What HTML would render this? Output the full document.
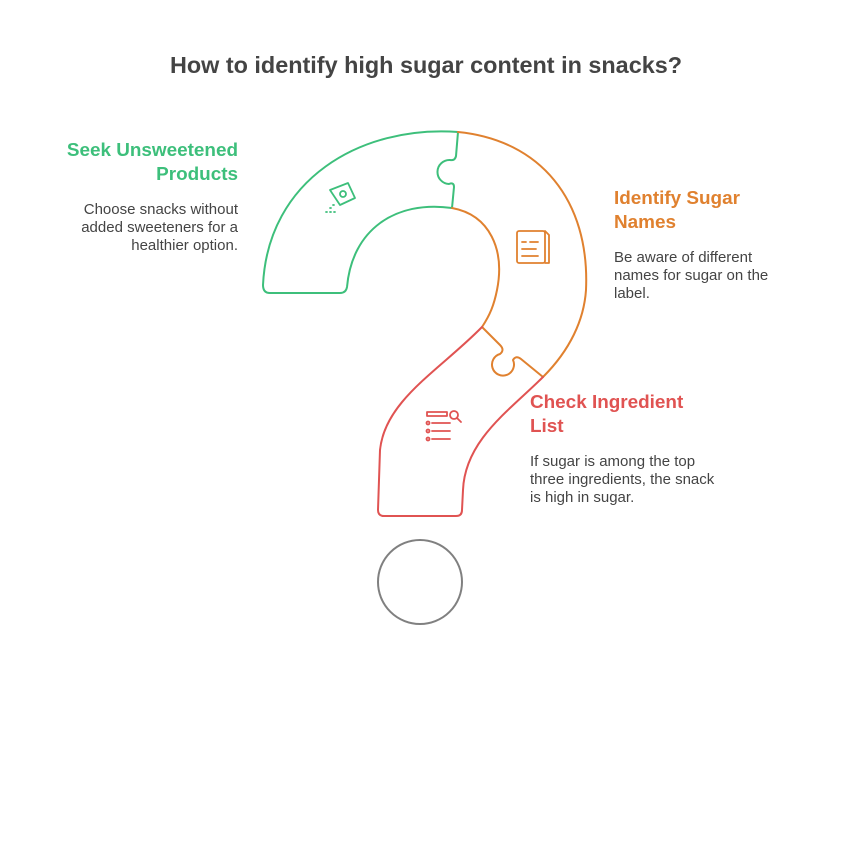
<!DOCTYPE html>
<html><head><style>
body{margin:0;width:852px;height:865px;background:#fff;position:relative;font-family:"Liberation Sans",sans-serif;overflow:hidden}
.t{position:absolute;white-space:nowrap}
h1{position:absolute;left:0;width:852px;top:52px;margin:0;text-align:center;font-size:23.4px;color:#444;font-weight:bold}
.h{font-size:18.9px;font-weight:bold;line-height:24px}
.d{font-size:15px;color:#444;line-height:18px}
</style></head><body>
<h1>How to identify high sugar content in snacks?</h1>
<div class="t h" style="right:614px;top:139px;text-align:right;color:#3dbf7b">Seek Unsweetened<br>Products</div>
<div class="t d" style="right:614px;top:201px;text-align:right">Choose snacks without<br>added sweeteners for a<br>healthier option.</div>
<div class="t h" style="left:614px;top:187px;color:#e0812f">Identify Sugar<br>Names</div>
<div class="t d" style="left:614px;top:249px">Be aware of different<br>names for sugar on the<br>label.</div>
<div class="t h" style="left:530px;top:391px;color:#e05352">Check Ingredient<br>List</div>
<div class="t d" style="left:530px;top:453px">If sugar is among the top<br>three ingredients, the snack<br>is high in sugar.</div>
<svg width="852" height="865" style="position:absolute;left:0;top:0" fill="none" stroke-width="2" stroke-linejoin="round" stroke-linecap="round">
<path stroke="#3dbf7b" d="M458,132 C360,125 268,180 263,285 Q263,293 270,293 L340,293 Q346,293 347,287 C352,230 395,200 452,208 L454,187 Q454,182 449,184 A11,11 0 1 1 450,160 Q455,161 456,156 Z"/>
<path stroke="#e0812f" d="M458,132 C540,140 590,200 586,290 C584,320 570,350 543,377 L521,359 Q516,355 513,360 A11,11 0 1 1 500,354 Q505,350 500,345 L482,327 C490,315 494,305 497,290 C505,250 490,215 452,208"/>
<path stroke="#e05352" d="M482,327 C440,370 385,400 380,450 L378,510 Q378,516 384,516 L456,516 Q462,516 462,510 L463,490 C465,440 510,410 543,377"/>
<circle cx="420" cy="582" r="42" stroke="#808080"/>
<g stroke="#3dbf7b" stroke-width="1.8"><path d="M330,190 L348,183 L355,198 L340,205 Z"/><circle cx="343" cy="194" r="3"/><path d="M326,212 h1 M330,212 h1 M334,212 h1 M330,208 h1 M333,205 h1"/></g>
<g stroke="#e0812f" stroke-width="1.8"><rect x="517" y="231" width="28" height="32" rx="2"/><path d="M545,231 l4,4 v28 h-4 M522,242 h4 M530,242 h8 M522,249 h14 M522,256 h16"/></g>
<g stroke="#e05352" stroke-width="1.8"><path d="M427,412 h20 v4 h-20 Z M432,423 h18 M432,431 h18 M432,439 h18"/><circle cx="428" cy="423" r="1.5"/><circle cx="428" cy="431" r="1.5"/><circle cx="428" cy="439" r="1.5"/><circle cx="454" cy="415" r="4"/><path d="M457,418 l4,4"/></g>
</svg>
</body></html>
